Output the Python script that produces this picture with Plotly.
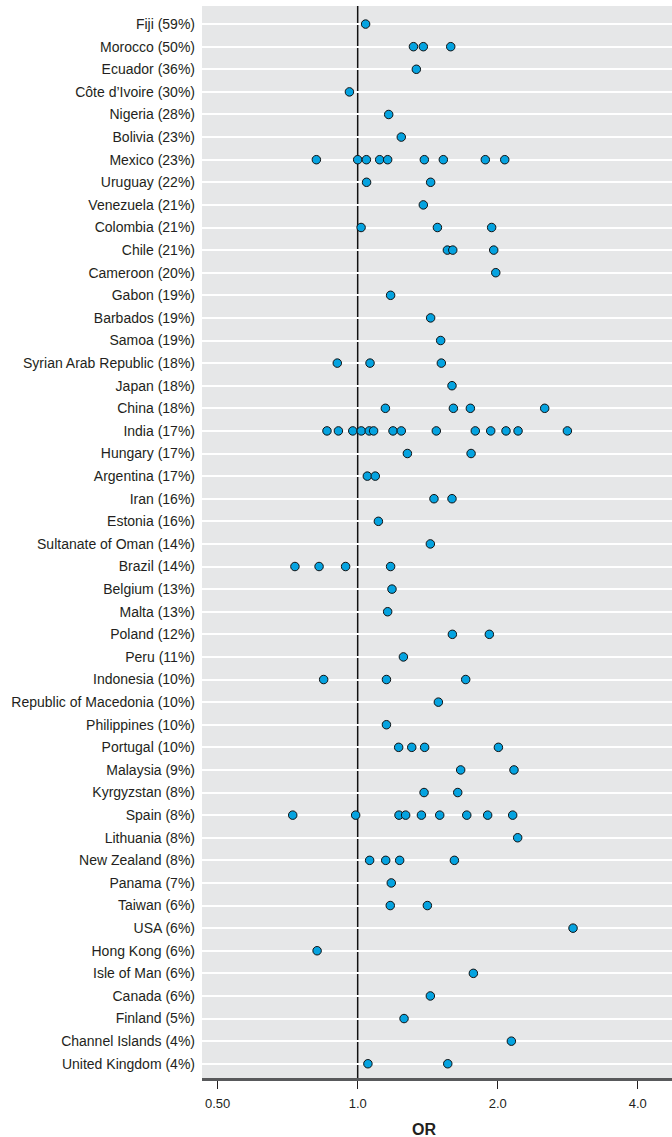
import math
import plotly.graph_objects as go

countries = [
    "Fiji (59%)", "Morocco (50%)", "Ecuador (36%)", "Côte d’Ivoire (30%)", "Nigeria (28%)",
    "Bolivia (23%)", "Mexico (23%)", "Uruguay (22%)", "Venezuela (21%)", "Colombia (21%)",
    "Chile (21%)", "Cameroon (20%)", "Gabon (19%)", "Barbados (19%)", "Samoa (19%)",
    "Syrian Arab Republic (18%)", "Japan (18%)", "China (18%)", "India (17%)", "Hungary (17%)",
    "Argentina (17%)", "Iran (16%)", "Estonia (16%)", "Sultanate of Oman (14%)", "Brazil (14%)",
    "Belgium (13%)", "Malta (13%)", "Poland (12%)", "Peru (11%)", "Indonesia (10%)",
    "Republic of Macedonia (10%)", "Philippines (10%)", "Portugal (10%)", "Malaysia (9%)",
    "Kyrgyzstan (8%)", "Spain (8%)", "Lithuania (8%)", "New Zealand (8%)", "Panama (7%)",
    "Taiwan (6%)", "USA (6%)", "Hong Kong (6%)", "Isle of Man (6%)", "Canada (6%)",
    "Finland (5%)", "Channel Islands (4%)", "United Kingdom (4%)",
]

odds_ratios = [
    [1.04],
    [1.318, 1.384, 1.585],
    [1.337],
    [0.960],
    [1.166],
    [1.241],
    [0.815, 1.0, 1.044, 1.115, 1.160, 1.391, 1.528, 1.881, 2.071],
    [1.045, 1.435],
    [1.384],
    [1.017, 1.484, 1.941],
    [1.559, 1.601, 1.961],
    [1.981],
    [1.177],
    [1.435],
    [1.508],
    [0.904, 1.063, 1.513],
    [1.595],
    [1.147, 1.606, 1.747, 2.524],
    [0.859, 0.909, 0.976, 1.018, 1.059, 1.082, 1.191, 1.241, 1.476, 1.790, 1.932, 2.084, 2.212, 2.824],
    [1.279, 1.753],
    [1.049, 1.091],
    [1.459, 1.595],
    [1.108],
    [1.433],
    [0.733, 0.826, 0.942, 1.177],
    [1.185],
    [1.160],
    [1.598, 1.919],
    [1.254],
    [0.845, 1.153, 1.707],
    [1.491],
    [1.153],
    [1.225, 1.307, 1.393, 2.007],
    [1.665, 2.168],
    [1.389, 1.641],
    [0.725, 0.990, 1.227, 1.268, 1.371, 1.501, 1.716, 1.903, 2.154],
    [2.208],
    [1.061, 1.149, 1.231, 1.614],
    [1.181],
    [1.175, 1.412],
    [2.904],
    [0.818],
    [1.773],
    [1.433],
    [1.258],
    [2.140],
    [1.052, 1.562],
]

tick_values = [0.5, 1.0, 2.0, 4.0]
tick_labels = ["0.50", "1.0", "2.0", "4.0"]
x_title = "OR"

xs, ys = [], []
for c, vals in zip(countries, odds_ratios):
    for v in vals:
        xs.append(v)
        ys.append(c)

FONT = "Liberation Sans, Arial, sans-serif"

fig = go.Figure()
fig.add_trace(go.Scatter(
    x=xs, y=ys, mode="markers",
    marker=dict(size=8.5, color="#05a3e0", line=dict(color="#111111", width=1)),
    showlegend=False, hoverinfo="x+y",
))

fig.add_shape(type="line", xref="x", yref="paper", x0=1.0, x1=1.0, y0=0, y1=1,
              line=dict(color="#111111", width=1.5), layer="below")

n = len(countries)
fig.update_layout(
    width=672, height=1137,
    margin=dict(l=202, r=0, t=6, b=59, autoexpand=False),
    paper_bgcolor="white",
    plot_bgcolor="#e6e7e8",
    font=dict(family=FONT, size=14, color="#231f20"),
    xaxis=dict(
        type="log",
        range=[math.log10(0.4627), math.log10(4.74)],
        tickvals=tick_values, ticktext=tick_labels,
        showgrid=False, zeroline=False,
        showline=True, linecolor="#58595b", linewidth=2.5,
        ticks="outside", ticklen=8, tickcolor="#231f20", tickwidth=1,
        tickfont=dict(size=13),
        ticklabelstandoff=4,
        automargin=False,
    ),
    yaxis=dict(
        type="category",
        categoryorder="array", categoryarray=countries,
        range=[n - 1 + 0.63, -0.8],
        showgrid=True, gridcolor="white", gridwidth=1.5,
        showline=False, zeroline=False, ticks="",
        ticklabelstandoff=6,
        tickfont=dict(size=14),
        automargin=False,
    ),
    annotations=[dict(
        text="<b>" + x_title + "</b>", xref="paper", yref="paper",
        x=0.472, y=0, yshift=-51, showarrow=False, xanchor="center", yanchor="middle",
        font=dict(size=16, family=FONT, color="#231f20"),
    )],
)

fig.write_html(
    "out.html",
    config={"displayModeBar": False},
    post_script="document.body.style.margin='0';document.body.style.overflow='hidden';",
)
